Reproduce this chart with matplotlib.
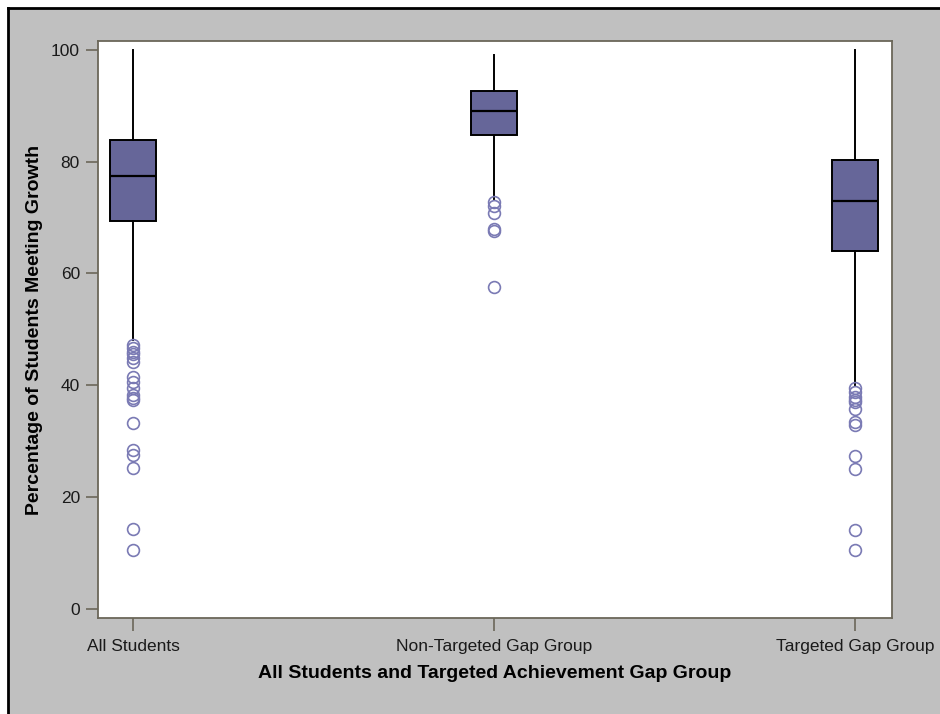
import matplotlib
matplotlib.use("Agg")
import matplotlib.pyplot as plt
from matplotlib.patches import Rectangle
from matplotlib.lines import Line2D

plt.rcParams['font.family'] = ['Liberation Sans', 'DejaVu Sans']

# Group names and five-number summaries (percent of students meeting growth)
groups = ["All Students", "Non-Targeted Gap Group", "Targeted Gap Group"]
q1 = [69.4, 84.8, 64.0]
medians = [77.4, 89.1, 73.0]
q3 = [83.8, 92.7, 80.3]
whisker_low = [48.0, 73.1, 40.0]
whisker_high = [100.0, 99.1, 100.0]

# Outlying schools below the lower fence
outliers_all = [47.2, 46.6, 46.0, 45.5, 44.8, 44.2, 41.5, 40.6, 39.5, 38.2,
                37.6, 37.3, 33.2, 28.4, 27.5, 25.1, 14.2, 10.5]
outliers_non = [72.7, 72.0, 70.8, 68.0, 67.6, 57.6]
outliers_tgt = [39.4, 38.8, 37.9, 37.4, 37.0, 35.8, 33.4, 32.9, 27.3, 25.0,
                14.1, 10.5]
outliers = [outliers_all, outliers_non, outliers_tgt]

yticks = [0, 20, 40, 60, 80, 100]

BG = "#c0c0c0"
AXIS_COL = "#6b6759"
BOX_FILL = "#666699"
FLIER_COL = "#7a7ab4"

fig = plt.figure(figsize=(9.4, 7.14), dpi=100, facecolor="white")

# Gray panel with a dark frame along its top and left edges
W, H = 940, 714
x0, y0 = 8 / W, (H - 8) / H
fig.patches.append(Rectangle((x0, 0), 1 - x0, y0,
                             transform=fig.transFigure, facecolor=BG,
                             edgecolor="none", zorder=-10))
fig.lines.append(Line2D([x0, x0], [0, y0], transform=fig.transFigure,
                        color="black", linewidth=2.0))
fig.lines.append(Line2D([x0, 1], [y0, y0], transform=fig.transFigure,
                        color="black", linewidth=2.0))

ax = fig.add_axes([98 / W, (H - 618) / H, (892 - 98) / W, (618 - 41) / H])
ax.set_facecolor("white")

stats = []
for i, name in enumerate(groups):
    stats.append(dict(label=name, med=medians[i], q1=q1[i], q3=q3[i],
                      whislo=whisker_low[i], whishi=whisker_high[i],
                      fliers=outliers[i]))

positions = list(range(len(groups)))
ax.bxp(stats, positions=positions, widths=0.127, patch_artist=True,
       showcaps=False,
       boxprops=dict(facecolor=BOX_FILL, edgecolor="black", linewidth=1.4),
       medianprops=dict(color="black", linewidth=1.6),
       whiskerprops=dict(color="black", linewidth=1.4),
       flierprops=dict(marker="o", markersize=8.5, markerfacecolor="none",
                       markeredgecolor=FLIER_COL, markeredgewidth=1.2,
                       linestyle="none"))

ax.set_xlim(-0.097, 2.102)
ax.set_ylim(-1.7, 101.6)
ax.set_yticks(yticks)
ax.set_yticklabels([str(t) for t in yticks])
ax.set_xticks(positions)
ax.set_xticklabels(groups)

for s in ax.spines.values():
    s.set_color(AXIS_COL)
    s.set_linewidth(1.3)

ax.tick_params(axis="both", colors=AXIS_COL, length=9, width=1.2,
               labelsize=12.5, labelcolor="#1a1a1a", pad=4)
ax.tick_params(axis="x", pad=6)

ax.set_xlabel("All Students and Targeted Achievement Gap Group",
              fontsize=14, fontweight="bold", color="black")
ax.set_ylabel("Percentage of Students Meeting Growth",
              fontsize=14, fontweight="bold", color="black", va="center")
ax.xaxis.set_label_coords(0.5, (618 - 665) / 577)
ax.yaxis.set_label_coords((35 - 98) / 794, 0.5)

fig.savefig("out.png", dpi=100, facecolor=fig.get_facecolor())
